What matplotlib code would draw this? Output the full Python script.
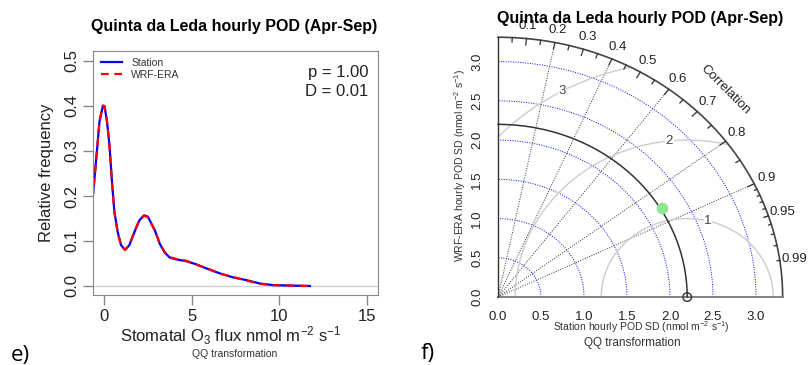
import numpy as np
import matplotlib
matplotlib.use('Agg')
from matplotlib import pyplot as plt

plt.rcParams['font.family'] = ['Liberation Sans', 'DejaVu Sans']
plt.rcParams['mathtext.fontset'] = 'custom'
plt.rcParams['mathtext.rm'] = 'Liberation Sans'
plt.rcParams['mathtext.it'] = 'Liberation Sans:italic'

title = 'Quinta da Leda hourly POD (Apr-Sep)'

# e) relative frequency of hourly stomatal O3 flux
flux = [-0.65, -0.46, -0.26, -0.07, 0.03, 0.17, 0.31, 0.44, 0.59, 0.78, 0.97, 1.2,
        1.45, 1.74, 2.02, 2.29, 2.5, 2.61, 2.9, 3.18, 3.47, 3.76, 4.14, 4.71, 5.28,
        5.85, 6.62, 7.38, 8.14, 8.9, 9.66, 10.6, 11.76]
station_freq = [0.195, 0.276, 0.365, 0.399, 0.399, 0.365, 0.313, 0.239, 0.165, 0.120,
                0.091, 0.080, 0.091, 0.120, 0.146, 0.157, 0.154, 0.146, 0.124, 0.094,
                0.074, 0.063, 0.059, 0.055, 0.048, 0.039, 0.028, 0.019, 0.013, 0.0055,
                0.002, 0.001, 0.0]
wrf_freq = [0.193, 0.275, 0.366, 0.401, 0.400, 0.366, 0.312, 0.238, 0.164, 0.119,
            0.090, 0.080, 0.092, 0.121, 0.147, 0.156, 0.153, 0.145, 0.123, 0.095,
            0.075, 0.064, 0.060, 0.056, 0.047, 0.040, 0.027, 0.020, 0.012, 0.005,
            0.002, 0.001, 0.0]
p_value = 1.00
d_stat = 0.01
yticks_e = [0.0, 0.1, 0.2, 0.3, 0.4, 0.5]
xticks_e = [0, 5, 10, 15]

# f) Taylor diagram
station_sd = 2.2
wrf_sd = 2.22
wrf_cor = 0.86
max_sd = 3.31
sd_arcs = [0.5, 1.0, 1.5, 2.0, 2.5, 3.0]
rms_arcs = [1, 2, 3]
cor_lines = [0.2, 0.4, 0.6, 0.8, 0.9]
cor_labels = [0.1, 0.2, 0.3, 0.4, 0.5, 0.6, 0.7, 0.8, 0.9, 0.95, 0.99]

W, H = 808, 365
fig = plt.figure(figsize=(W / 100, H / 100), dpi=100)


def fx(p):
    return p / W


def fy(p):
    return 1 - p / H


# ---------------- panel e ----------------
ax1 = fig.add_axes([fx(93), fy(295), (378 - 93) / W, (295 - 51) / H])
ax1.axhline(0, color='#d0d0d0', lw=1)
ax1.plot(flux, station_freq, color='blue', lw=1.6, label='Station')
ax1.plot(flux, wrf_freq, color='red', lw=1.6, ls=(0, (3.5, 2.5)), label='WRF-ERA')
ax1.set_xlim(-0.63, 15.65)
ax1.set_ylim(-0.02, 0.522)
ax1.set_xticks(xticks_e)
ax1.set_xticklabels([str(v) for v in xticks_e])
ax1.set_yticks(yticks_e)
ax1.set_yticklabels(['%.1f' % v for v in yticks_e], rotation=90, va='center')
ax1.tick_params(length=7, width=1, color='#888888', labelcolor='#222222', labelsize=12)
ax1.tick_params(axis='y', pad=2.5)
ax1.tick_params(axis='x', pad=3)
for s in ax1.spines.values():
    s.set_color('#888888')
leg = ax1.legend(loc='upper left', bbox_to_anchor=(fx(101), fy(58)),
                 bbox_transform=fig.transFigure, frameon=False, fontsize=7.5,
                 handlelength=2.0, handletextpad=0.9, labelspacing=0.2,
                 borderpad=0, borderaxespad=0)
for t in leg.get_texts():
    t.set_color('#333333')
fig.text(fx(368), fy(72), 'p = %.2f' % p_value, ha='right', va='center', fontsize=12, color='#222222')
fig.text(fx(368), fy(91), 'D = %.2f' % d_stat, ha='right', va='center', fontsize=12, color='#222222')
fig.text(fx(234), fy(26), title, ha='center', va='center', fontsize=11.5, fontweight='bold')
fig.text(fx(47), fy(173), 'Relative frequency', rotation=90, ha='center', va='center',
         fontsize=12, color='#222222')
fig.text(fx(231), fy(336), 'Stomatal O$_3$ flux nmol m$^{-2}$ s$^{-1}$', ha='center',
         va='center', fontsize=12, color='#222222')
fig.text(fx(235), fy(354), 'QQ transformation', ha='center', va='center', fontsize=7.5,
         color='#333333')
fig.text(fx(11), fy(361), 'e)', ha='left', va='baseline', fontsize=16, family='Open Sans')

# ---------------- panel f ----------------
ax2 = fig.add_axes([fx(493.7), fy(301), 301 / W, 274.75 / H])
ax2.set_xlim(-0.05, 3.45)
ax2.set_ylim(-0.05, 3.45)
ax2.axis('off')

th = np.linspace(0, np.pi / 2, 300)
for r in sd_arcs:
    ax2.plot(r * np.cos(th), r * np.sin(th), color='blue', lw=0.7, ls=(0, (1, 1.5)))

for c in cor_lines:
    ax2.plot([0, max_sd * c], [0, max_sd * np.sqrt(1 - c ** 2)], color='#333333',
             lw=0.7, ls=(0, (1, 1.5)))

t = np.linspace(0, np.pi, 600)
rms_label_ang = {1: 76, 2: 96, 3: 119}
for r in rms_arcs:
    xc = station_sd + r * np.cos(t)
    yc = r * np.sin(t)
    ok = (xc >= 0) & (xc ** 2 + yc ** 2 <= max_sd ** 2)
    ax2.plot(np.where(ok, xc, np.nan), np.where(ok, yc, np.nan), color='#cccccc', lw=1)
    a = np.radians(rms_label_ang[r])
    ax2.text(station_sd + r * np.cos(a), r * np.sin(a), str(r), ha='center', va='center',
             fontsize=9.5, color='#444444',
             bbox=dict(facecolor='white', edgecolor='none', pad=0.5))

# outer arc and axes
ax2.plot(max_sd * np.cos(th), max_sd * np.sin(th), color='#444444', lw=1.2)
ax2.plot([0, max_sd], [0, 0], color='#777777', lw=1.3)
ax2.plot([0, 0], [0, max_sd], color='#333333', lw=1)
ax2.plot(station_sd * np.cos(th), station_sd * np.sin(th), color='#333333', lw=1.1)

big = np.arccos(np.arange(0.1, 0.95, 0.1))
med = np.arccos(np.arange(0.05, 1.0, 0.1))
sml = np.arccos(np.arange(0.91, 0.995, 0.01))
for angs, f in ((big, 0.975), (med, 0.983), (sml, 0.99)):
    for a in angs:
        ax2.plot([max_sd * np.cos(a), f * max_sd * np.cos(a)],
                 [max_sd * np.sin(a), f * max_sd * np.sin(a)], color='#333333', lw=0.9)

for c in cor_labels:
    a = np.arccos(c)
    ax2.text(1.05 * max_sd * np.cos(a), 1.05 * max_sd * np.sin(a), '%g' % c,
             ha='center', va='center', fontsize=9.5, color='#222222')
ax2.text(0.8 * max_sd, 0.8 * max_sd, 'Correlation', rotation=-45, ha='center',
         va='center', fontsize=9.5, color='#222222')

ax2.scatter([station_sd], [0], s=38, facecolors='none', edgecolors='#333333',
            linewidths=1, clip_on=False, zorder=5)
ax2.scatter([wrf_sd * wrf_cor], [wrf_sd * np.sqrt(1 - wrf_cor ** 2)], s=55,
            color='#8ee68e', clip_on=False, zorder=6)

for v in [0.0] + sd_arcs:
    ax2.text(-0.244, v, '%.1f' % v, rotation=90, ha='center', va='center',
             fontsize=9.5, color='#222222')
    ax2.text(v, -0.255, '%.1f' % v, ha='center', va='center', fontsize=9.5,
             color='#222222')

fig.text(fx(640), fy(18), title, ha='center', va='center', fontsize=11.5, fontweight='bold')
fig.text(fx(460), fy(166), 'WRF-ERA hourly POD SD (nmol m$^{-2}$ s$^{-1}$)', rotation=90,
         ha='center', va='center', fontsize=7.5, color='#333333')
fig.text(fx(641), fy(327), 'Station hourly POD SD (nmol m$^{-2}$ s$^{-1}$)', ha='center',
         va='center', fontsize=7.5, color='#333333')
fig.text(fx(632), fy(343), 'QQ transformation', ha='center', va='center', fontsize=8.5,
         color='#333333')
fig.text(fx(421), fy(359), 'f)', ha='left', va='baseline', fontsize=16, family='Open Sans')

fig.savefig('out.png', dpi=100)
